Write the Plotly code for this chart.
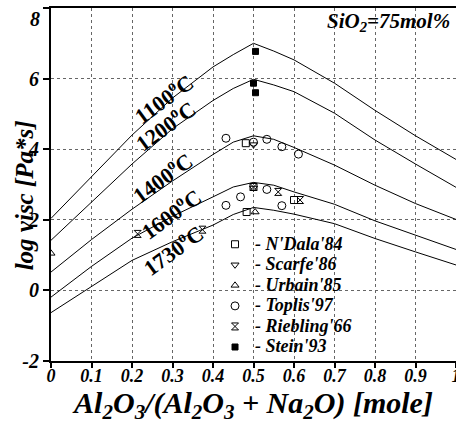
import plotly.graph_objects as go

# ---- model curves (log viscosity vs Al2O3/(Al2O3+Na2O)) ----
x_curve = [0.0, 0.1, 0.2, 0.3, 0.4, 0.45, 0.5, 0.55, 0.6, 0.7, 0.8, 0.9, 1.0]
visc_1100 = [2.04, 3.22, 4.40, 5.45, 6.33, 6.68, 7.00, 6.78, 6.53, 5.87, 5.10, 4.38, 3.71]
visc_1200 = [1.42, 2.51, 3.58, 4.58, 5.38, 5.72, 5.98, 5.82, 5.63, 5.02, 4.26, 3.58, 2.92]
visc_1400 = [0.52, 1.44, 2.30, 3.10, 3.85, 4.20, 4.38, 4.28, 4.05, 3.55, 2.98, 2.46, 2.01]
visc_1600 = [-0.19, 0.68, 1.48, 2.10, 2.65, 2.93, 3.06, 2.98, 2.79, 2.44, 1.97, 1.56, 1.16]
visc_1730 = [-0.63, 0.12, 0.85, 1.38, 1.85, 2.15, 2.35, 2.27, 2.16, 1.89, 1.47, 1.09, 0.72]

curve_labels = ["1100", "1200", "1400", "1600", "1730"]
label_x = [0.277, 0.281, 0.273, 0.296, 0.302]
label_y = [5.45, 4.69, 3.22, 2.18, 1.16]

# ---- experimental data ----
ndala_x = [0.481, 0.500, 0.483, 0.600]
ndala_y = [4.17, 2.93, 2.22, 2.56]
scarfe_x = [0.500, 0.500]
scarfe_y = [4.13, 2.90]
urbain_x = [0.000, 0.504]
urbain_y = [1.05, 2.22]
toplis_x = [0.432, 0.500, 0.533, 0.570, 0.611, 0.432, 0.468, 0.533, 0.570]
toplis_y = [4.31, 4.20, 4.28, 4.07, 3.86, 2.41, 2.65, 2.86, 2.40]
riebling_x = [0.214, 0.374, 0.500, 0.561, 0.615]
riebling_y = [1.60, 1.72, 2.93, 2.79, 2.56]
stein_x = [0.505, 0.500, 0.505]
stein_y = [6.77, 5.87, 5.60]

x_ticks = [0, 0.1, 0.2, 0.3, 0.4, 0.5, 0.6, 0.7, 0.8, 0.9, 1.0]
x_ticktext = ["0", "0.1", "0.2", "0.3", "0.4", "0.5", "0.6", "0.7", "0.8", "0.9", "1"]
y_ticks = [-2, 0, 2, 4, 6, 8]
y_ticktext = ["-2", "0", "2", "4", "6", ""]   # "8" drawn just below the top edge
y_top_label = "8"

SERIF = "Liberation Serif"

fig = go.Figure()

for vals in [visc_1100, visc_1200, visc_1400, visc_1600, visc_1730]:
    fig.add_trace(go.Scatter(x=x_curve, y=vals, mode="lines",
                             line=dict(color="black", width=1),
                             showlegend=False, hoverinfo="skip"))

series = [
    ("- N'Dala'84", ndala_x, ndala_y, "square-open", 7),
    ("- Scarfe'86", scarfe_x, scarfe_y, "triangle-down-open", 7),
    ("- Urbain'85", urbain_x, urbain_y, "triangle-up-open", 7),
    ("- Toplis'97", toplis_x, toplis_y, "circle-open", 8),
    ("- Riebling'66", riebling_x, riebling_y, "hourglass-open", 7),
    ("- Stein'93", stein_x, stein_y, "square", 6),
]
for name, xs, ys, sym, sz in series:
    fig.add_trace(go.Scatter(x=xs, y=ys, mode="markers",
                             name="<span style='font-size:18px'>%s</span>" % name,
                             marker=dict(symbol=sym, size=sz, color="black",
                                         line=dict(color="black", width=1))))

for lab, lx, ly in zip(curve_labels, label_x, label_y):
    fig.add_annotation(x=lx, y=ly, xref="x", yref="y", showarrow=False,
                       text=lab + "<sup>o</sup>C", textangle=-36,
                       font=dict(family=SERIF, size=22, color="black", weight="bold"))

fig.add_annotation(x=0.99, y=0.96, xref="paper", yref="paper", xanchor="right",
                   yanchor="middle", showarrow=False,
                   text="SiO<sub>2</sub>=75mol%",
                   font=dict(family=SERIF, size=21, color="black",
                             weight="bold", style="italic"))

# y-axis title
fig.add_annotation(x=-0.066, y=0.47, xref="paper", yref="paper", xanchor="center",
                   yanchor="middle", showarrow=False, textangle=-90,
                   text="log visc [Pa*s]",
                   font=dict(family=SERIF, size=25, color="black",
                             weight="bold", style="italic"))

# top y tick label, kept inside the page
fig.add_annotation(x=-0.022, y=8, xref="paper", yref="y", xanchor="right",
                   yanchor="top", showarrow=False, text=y_top_label, yshift=2,
                   font=dict(family=SERIF, size=20, color="black",
                             weight="bold", style="italic"))

axis_font = dict(family=SERIF, size=18, color="black", weight="bold", style="italic")

fig.update_xaxes(range=[0, 1], tickvals=x_ticks, ticktext=x_ticktext,
                 showgrid=True, gridcolor="#666", griddash="dot", gridwidth=1,
                 zeroline=False, showline=True, linecolor="black", linewidth=2,
                 mirror=True, ticks="outside", ticklen=5, tickwidth=1.5,
                 tickcolor="black", tickfont=axis_font, ticklabeloverflow="allow",
                 ticklabelstandoff=-8,
                 title=dict(text="Al<sub>2</sub>O<sub>3</sub>/(Al<sub>2</sub>O<sub>3</sub> + Na<sub>2</sub>O) [mole]",
                            font=dict(family=SERIF, size=30, color="black",
                                      weight="bold", style="italic"),
                            standoff=7))
fig.update_yaxes(range=[-2, 8], tickvals=y_ticks, ticktext=y_ticktext,
                 showgrid=True, gridcolor="#666", griddash="dot", gridwidth=1,
                 zeroline=False, showline=True, linecolor="black", linewidth=2,
                 ticks="outside", ticklen=6, tickwidth=1.5, tickcolor="black",
                 tickfont=dict(family=SERIF, size=20, color="black",
                               weight="bold", style="italic"),
                 ticklabeloverflow="allow")

fig.update_layout(
    width=456, height=429,
    margin=dict(l=51, r=0, t=8, b=68, autoexpand=False),
    paper_bgcolor="white", plot_bgcolor="white",
    showlegend=True,
    legend=dict(x=0.405, y=0.374, xanchor="left", yanchor="top",
                bgcolor="rgba(0,0,0,0)", borderwidth=0,
                font=dict(family=SERIF, size=13.5, color="black",
                          weight="bold", style="italic"),
                tracegroupgap=0, itemclick=False, itemdoubleclick=False),
)

fig.write_html("out.html", config={"displayModeBar": False},
               post_script="document.body.style.margin='0px';")
